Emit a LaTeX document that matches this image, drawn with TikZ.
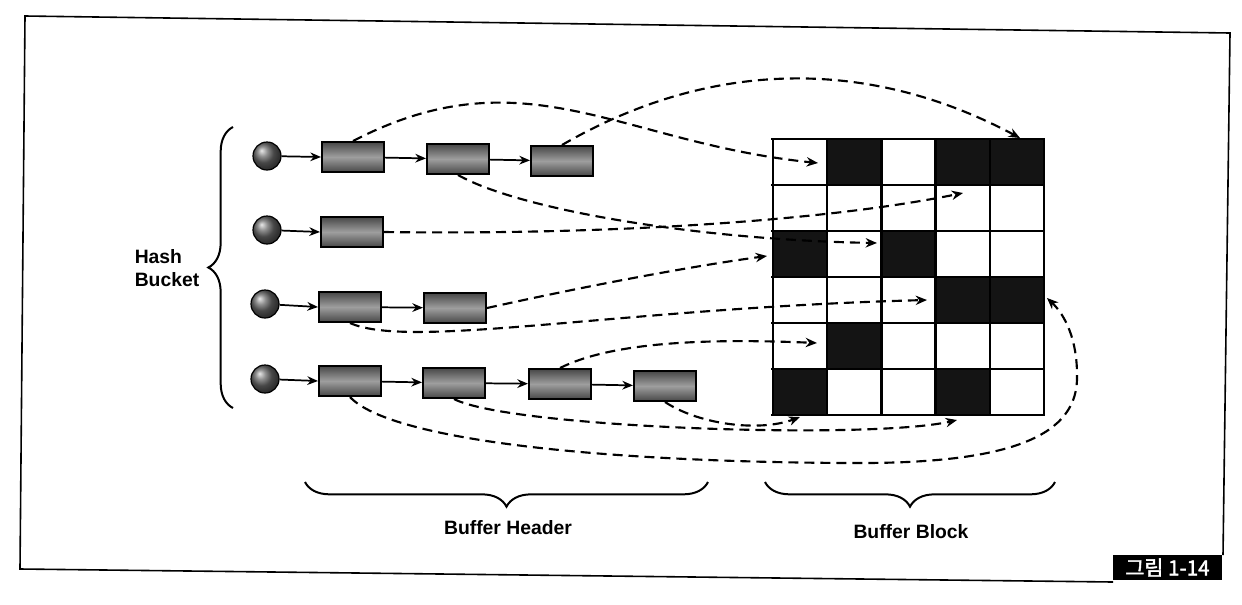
\documentclass[tikz,border=0pt]{standalone}
\usepackage{fontspec}
\setmainfont{Liberation Sans}
\newfontfamily\kr[FakeBold=2]{Noto Sans CJK KR}
\usetikzlibrary{arrows.meta,decorations.pathreplacing,shadings}
\begin{document}
\begin{tikzpicture}[x=0.75pt,y=-0.75pt,
  ball/.style={circle,draw=black,line width=0.9pt,shading=ball,ball color=black!60,minimum size=21pt,inner sep=0pt},
  hdr/.style={rectangle,draw=black,line width=1.5pt,top color=black!72,bottom color=black!72,middle color=black!38,minimum width=46.5pt,minimum height=22.5pt,inner sep=0pt},
  link/.style={line width=1.3pt,-{Stealth[length=8pt,width=6.5pt]}},
  ptr/.style={line width=1.6pt,dash pattern=on 7.5pt off 4.5pt,-{Stealth[length=8.5pt,width=7pt]}},
  lbl/.style={font=\bfseries\fontsize{14.5}{17.5}\selectfont},
  brc/.style={decorate,decoration={brace,amplitude=18.5pt},line width=1.5pt},
  gridline/.style={line width=1.7pt},
]
\useasboundingbox (0,0) rectangle (1242,604);
% frame
\draw[line width=1.2pt] (1113,582) -- (20,569) -- (25,16) -- (1230,33) -- (1223,555);
\node[fill=black,text=white,minimum width=81.75pt,minimum height=18.75pt,inner sep=0pt] (fig) at (1167.5,567.5) {\kr\fontsize{15.5}{15.5}\selectfont 그림 1-14};

% hash buckets
\node[ball] (h1) at (267,156) {};
\node[ball] (h2) at (267,230) {};
\node[ball] (h3) at (265,304) {};
\node[ball] (h4) at (265,379) {};
% buffer headers
\node[hdr] (b11) at (353,157) {};
\node[hdr] (b12) at (458,159) {};
\node[hdr] (b13) at (562,161) {};
\node[hdr] (b21) at (352,232) {};
\node[hdr] (b31) at (350,307) {};
\node[hdr] (b32) at (455,308) {};
\node[hdr] (b41) at (350,381) {};
\node[hdr] (b42) at (454,383) {};
\node[hdr] (b43) at (560,384) {};
\node[hdr] (b44) at (665,386) {};

\draw[link] (h1) -- (b11.west);
\draw[link] (b11) -- (b12);
\draw[link] (b12) -- (b13);
\draw[link] (h2) -- (b21.west);
\draw[link] (h3) -- (b31.west);
\draw[link] (b31) -- (b32);
\draw[link] (h4) -- (b41.west);
\draw[link] (b41) -- (b42);
\draw[link] (b42) -- (b43);
\draw[link] (b43) -- (b44);

% buffer block grid
\foreach \c/\r in {1/0,3/0,4/0,0/2,2/2,3/3,4/3,1/4,0/5,3/5}
  \fill[black!92] ({773+54.2*\c},{139+46*\r}) rectangle ++(54.2,46);
\foreach \i in {0,...,5} \draw[gridline] ({773+54.2*\i},139) -- ({773+54.2*\i},415);
\foreach \j in {0,...,6} \draw[gridline] (771,{139+46*\j}) -- (1045,{139+46*\j});

% pointer targets
\coordinate (t1) at (818,163);
\coordinate (t2) at (1020,138);
\coordinate (t3) at (877,243);
\coordinate (t4) at (963,193);
\coordinate (t5) at (767,256);
\coordinate (t6) at (927,300);
\coordinate (t7) at (817,343);
\coordinate (t8) at (800,417);
\coordinate (t9) at (957,420);
\coordinate (t10) at (1047,298);

\draw[ptr] (b11.north) .. controls (525,52) and (620,143) .. (t1);
\draw[ptr] (b13.north) .. controls (712,58) and (870,58) .. (t2);
\draw[ptr] (b12.south) .. controls (520,210) and (700,240) .. (t3);
\draw[ptr] (b21.east) .. controls (600,235) and (820,222) .. (t4);
\draw[ptr] (b32.east) .. controls (600,283) and (700,265) .. (t5);
\draw[ptr] (b31.south) .. controls (410,350) and (620,308) .. (t6);
\draw[ptr] (b43.north) .. controls (610,343) and (700,338) .. (t7);
\draw[ptr] (b44.south) .. controls (700,425) and (760,432) .. (t8);
\draw[ptr] (b42.south) .. controls (510,428) and (870,440) .. (t9);
\draw[ptr] (b41.south) .. controls (390,440) and (600,462) .. (850,463)
   .. controls (1000,464) and (1075,440) .. (1077,380)
   .. controls (1078,340) and (1065,315) .. (t10);

% braces and labels
\draw[brc] (233,408) -- (233,127);
\node[lbl,align=left] (hb) at (167,268) {Hash\\Bucket};
\draw[brc] (708,482) -- (305,482);
\node[lbl] (bh) at (508,528) {Buffer Header};
\draw[brc] (1055,482) -- (765,482);
\node[lbl] (bb) at (911,532) {Buffer Block};
\end{tikzpicture}
\end{document}
